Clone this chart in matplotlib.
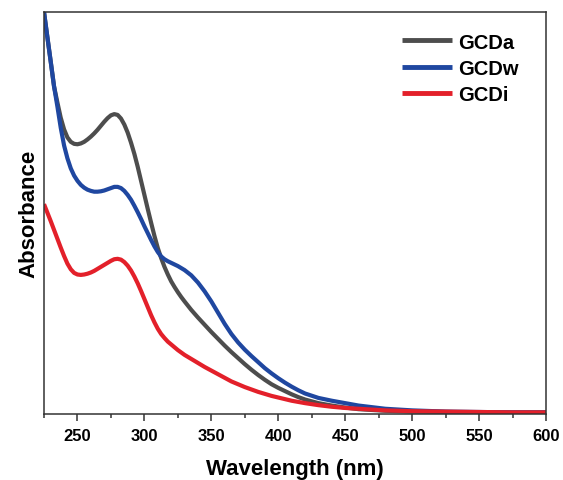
import matplotlib
matplotlib.use("Agg")
import matplotlib.pyplot as plt
from matplotlib.ticker import MultipleLocator

plt.rcParams['font.family'] = ['Liberation Sans', 'DejaVu Sans']
plt.rcParams['font.weight'] = 'bold'

wavelength = [225, 227.5, 230, 232.5, 235, 237.5, 240, 242.5, 245, 247.5, 250, 252.5, 255,
              257.5, 260, 262.5, 265, 267.5, 270, 272.5, 275, 277.5, 280, 282.5, 285, 287.5,
              290, 292.5, 295, 297.5, 300, 302.5, 305, 307.5, 310, 312.5, 315, 317.5, 320,
              322.5, 325, 327.5, 330,
              335, 340, 345, 350, 355, 360, 365, 370, 375, 380, 385, 390, 395, 400, 405,
              410, 415, 420,
              430, 440, 450, 460, 470, 480, 490, 500,
              525, 550, 575, 600]

gcda = [1.000, 0.938, 0.877, 0.815, 0.775, 0.737, 0.708, 0.688, 0.677, 0.672, 0.671, 0.673,
        0.677, 0.683, 0.690, 0.698, 0.707, 0.717, 0.727, 0.736, 0.743, 0.746, 0.744, 0.735,
        0.720, 0.700, 0.675, 0.647, 0.615, 0.580, 0.545, 0.510, 0.476, 0.443, 0.413, 0.388,
        0.366, 0.347, 0.330, 0.316, 0.303, 0.291, 0.280,
        0.259, 0.240, 0.222, 0.204, 0.187, 0.170, 0.154, 0.139, 0.124, 0.110, 0.097, 0.085,
        0.074, 0.065, 0.057, 0.049, 0.042, 0.036,
        0.027, 0.021, 0.016, 0.012, 0.010, 0.008, 0.007, 0.006,
        0.005, 0.004, 0.004, 0.004]

gcdw = [1.000, 0.938, 0.877, 0.815, 0.765, 0.712, 0.668, 0.636, 0.611, 0.593, 0.580, 0.570,
        0.563, 0.558, 0.555, 0.553, 0.553, 0.554, 0.556, 0.559, 0.562, 0.565, 0.565, 0.562,
        0.555, 0.545, 0.533, 0.518, 0.502, 0.485, 0.467, 0.450, 0.433, 0.417, 0.403, 0.392,
        0.385, 0.380, 0.376, 0.372, 0.368, 0.363, 0.358,
        0.345, 0.327, 0.305, 0.280, 0.252, 0.224, 0.199, 0.178, 0.160, 0.144, 0.129, 0.114,
        0.101, 0.089, 0.078, 0.068, 0.059, 0.051,
        0.040, 0.033, 0.027, 0.021, 0.017, 0.013, 0.011, 0.009,
        0.006, 0.005, 0.004, 0.004]

gcdi = [0.522, 0.501, 0.480, 0.458, 0.436, 0.414, 0.393, 0.374, 0.360, 0.351, 0.347, 0.346,
        0.347, 0.349, 0.352, 0.356, 0.361, 0.366, 0.371, 0.376, 0.381, 0.385, 0.386, 0.384,
        0.378, 0.369, 0.357, 0.342, 0.325, 0.306, 0.286, 0.266, 0.246, 0.228, 0.212, 0.199,
        0.189, 0.180, 0.173, 0.166, 0.159, 0.153, 0.147,
        0.137, 0.127, 0.117, 0.108, 0.099, 0.090, 0.081, 0.074, 0.067, 0.061, 0.055, 0.050,
        0.045, 0.041, 0.037, 0.033, 0.030, 0.027,
        0.022, 0.018, 0.015, 0.013, 0.011, 0.009, 0.008, 0.007,
        0.006, 0.005, 0.004, 0.004]

series = [("GCDa", gcda, "#4d4d4d"), ("GCDw", gcdw, "#1f47a0"), ("GCDi", gcdi, "#e3202a")]

fig = plt.figure(figsize=(5.63, 4.81), dpi=100)
ax = fig.add_axes([44/563, 66/481, 502/563, 402/481])

for name, vals, col in series:
    ax.plot(wavelength, vals, color=col, lw=3.0, label=name, solid_capstyle='butt',
            solid_joinstyle='round')

ax.set_xlim(225, 600)
ax.set_ylim(0, 1.0)
ax.xaxis.set_major_locator(MultipleLocator(50))
ax.xaxis.set_minor_locator(MultipleLocator(25))
ax.set_yticks([])
ax.tick_params(axis='x', which='major', direction='out', length=5, width=1.1,
               labelsize=12, pad=5, color='#333333')
ax.tick_params(axis='x', which='minor', direction='out', length=3, width=1.1, color='#333333')
for lab in ax.get_xticklabels():
    lab.set_fontweight('bold')
for s in ax.spines.values():
    s.set_linewidth(1.1)
    s.set_color('#333333')

ax.set_xlabel("Wavelength (nm)", fontsize=16, fontweight='bold', labelpad=11)
ax.set_ylabel("Absorbance", fontsize=16, fontweight='bold', labelpad=3)

leg = ax.legend(loc='upper left', bbox_to_anchor=(0.713, 0.949), frameon=False,
                prop={'weight': 'bold', 'size': 14.5}, handlelength=2.5,
                handletextpad=0.3, labelspacing=0.35, borderpad=0, borderaxespad=0)
for line in leg.get_lines():
    line.set_linewidth(3.5)

fig.savefig("out.png", dpi=100)
